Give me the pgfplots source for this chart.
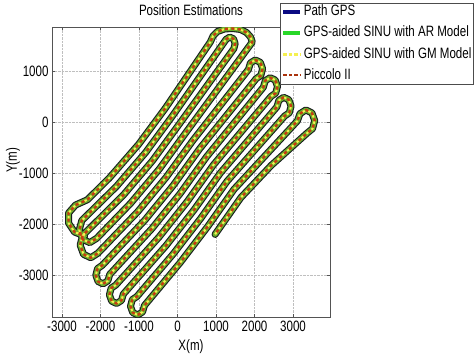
\documentclass[border=0pt]{standalone}
\usepackage{fontspec}
\setmainfont{Liberation Sans}[FakeStretch=0.77]
\usepackage{pgfplots}
\pgfplotsset{compat=1.18}
\usepackage{pgfplotstable}

\definecolor{navyGPS}{RGB}{10,10,130}
\definecolor{edgeGPS}{RGB}{25,30,30}
\definecolor{greenAR}{RGB}{105,175,45}
\definecolor{greenLeg}{RGB}{40,215,40}
\definecolor{yellowGM}{RGB}{245,240,80}
\definecolor{redPic}{RGB}{200,60,15}
\newcommand{\fnt}{\fontsize{15}{16}\selectfont}

\pgfplotstableread{
x y
-2415 -2236
-2675 -2157
-2831 -1981
-2831 -1785
-2649 -1628
-2341 -1525
-1770 -1097
-1009 -437
-309 278
853 1569
922 1686
1039 1775
1221 1824
1428 1834
1636 1814
1792 1755
1896 1667
1943 1569
224 -201
-471 -921
-1218 -1594
-2099 -2281
-2280 -2366
-2467 -2299
-2553 -2120
-2486 -1932
-1586 -1263
-830 -599
-132 118
1263 1621
1356 1665
1454 1631
1497 1538
1464 1440
46 -41
-650 -760
-1402 -1429
-2462 -2223
-2529 -2413
-2442 -2594
-2253 -2662
-2071 -2575
-1034 -1760
-292 -1082
401 -361
1843 1031
1893 1157
2019 1217
2150 1170
2211 1045
2164 913
2044 850
579 -521
-112 -1244
-850 -1926
-1957 -2812
-2077 -2874
-2122 -3004
-2063 -3128
-1934 -3174
-1809 -3115
-1760 -2989
-666 -2091
67 -1405
756 -681
2230 683
2280 809
2405 869
2537 823
2597 697
2550 566
2430 503
934 -841
246 -1567
-481 -2257
-1604 -3198
-1724 -3259
-1769 -3389
-1710 -3513
-1581 -3559
-1456 -3500
-1407 -3375
-297 -2423
425 -1728
1112 -1001
2583 298
2633 424
2758 484
2890 437
2950 312
2903 180
2783 118
1289 -1161
604 -1889
-113 -2589
-1055 -3423
-1175 -3484
-1221 -3614
-1162 -3738
-1032 -3784
-908 -3725
-859 -3599
72 -2755
784 -2051
1467 -1321
3114 22
3181 163
3333 236
3491 179
3564 28
3508 -131
3374 -213
2437 -849
1646 -1482
975 -2204
}\pathdata

\begin{document}
\begin{tikzpicture}
\begin{axis}[
  at={(52pt,40pt)}, anchor=south west,
  scale only axis, width=278pt, height=290pt,
  xmin=-3260, xmax=3961, ymin=-3824, ymax=1863,
  xtick={-3000,-2000,...,3000}, ytick={-3000,-2000,...,1000},
  grid=major, major grid style={densely dotted, gray!50, line width=0.5pt},
  axis line style={gray!65!black, line width=0.6pt},
  tick align=inside, major tick length=3pt, tick style={gray!65!black},
  /pgf/number format/assume math mode=true,
  /pgf/number format/1000 sep={},
  tick label style={font=\fnt},
  xlabel={X(m)}, ylabel={Y(m)},
  label style={font=\fnt},
  xlabel style={at={(axis description cs:0.5,-0.103)}, anchor=center},
  ylabel style={at={(axis description cs:-0.14,0.54)}, anchor=center},
  title={Position Estimations},
  every axis title shift=0pt,
  title style={font=\fnt, at={(axis description cs:0.5,1.058)}, anchor=center},
  legend image code/.code={\draw[#1] (0pt,0pt) -- (17pt,0pt);},
  legend style={at={(axis description cs:0.82,1.083)}, anchor=north west,
    font=\fnt, draw=gray!60!black, fill=white, inner sep=1pt,
    row sep=5.2pt, cells={anchor=west},
    nodes={inner sep=1.2pt, text height=10.5pt, text depth=3pt}},
]
\addlegendimage{navyGPS, line width=4.5pt}
\addlegendentry{Path GPS}
\addlegendimage{greenLeg, line width=4pt}
\addlegendentry{GPS-aided SINU with AR Model}
\addlegendimage{yellowGM, line width=2.5pt, dash pattern=on 3.5pt off 2pt}
\addlegendentry{GPS-aided SINU with GM Model}
\addlegendimage{redPic!85!black, line width=1.8pt, dash pattern=on 3.5pt off 2pt}
\addlegendentry{Piccolo II}

\addplot[edgeGPS, line width=7pt, line join=round, line cap=round, forget plot] table {\pathdata};
\addplot[greenAR, line width=4.8pt, line join=round, line cap=round, forget plot] table {\pathdata};
\addplot[yellowGM, line width=2pt, line join=round, dash pattern=on 2.5pt off 4pt, forget plot] table {\pathdata};
\addplot[redPic, line width=2.4pt, line join=round, dash pattern=on 3pt off 3.5pt, dash phase=3.1pt, forget plot] table {\pathdata};
\end{axis}
\pgfresetboundingbox
\path[use as bounding box] (0,0) rectangle (474pt,357pt);
\end{tikzpicture}
\end{document}
